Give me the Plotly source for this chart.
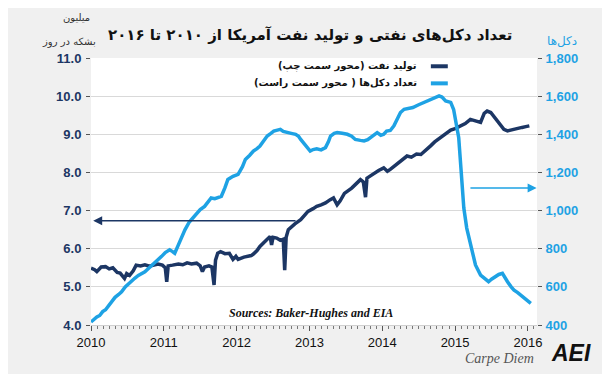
import plotly.graph_objects as go

# ---------------- data ----------------
oil_t = [2010.00, 2010.05, 2010.08, 2010.14, 2010.20, 2010.25, 2010.30, 2010.36, 2010.40, 2010.44,
         2010.46, 2010.49, 2010.53, 2010.58, 2010.62, 2010.68, 2010.74, 2010.80, 2010.86, 2010.92,
         2010.98, 2011.02, 2011.04, 2011.06, 2011.12, 2011.20, 2011.26, 2011.32, 2011.38, 2011.45,
         2011.50, 2011.53, 2011.56, 2011.62, 2011.66, 2011.69, 2011.71, 2011.74, 2011.78, 2011.84,
         2011.90, 2011.95, 2011.99, 2012.02, 2012.10, 2012.20, 2012.23, 2012.28, 2012.32, 2012.36,
         2012.42, 2012.46, 2012.48, 2012.50, 2012.55, 2012.60, 2012.64, 2012.66, 2012.68, 2012.71,
         2012.76, 2012.80, 2012.88, 2012.94, 2012.98, 2013.05, 2013.10, 2013.16, 2013.22, 2013.28,
         2013.33, 2013.38, 2013.42, 2013.48, 2013.52, 2013.58, 2013.64, 2013.70, 2013.74, 2013.77,
         2013.79, 2013.84, 2013.90, 2013.95, 2014.02, 2014.07, 2014.11, 2014.16, 2014.20, 2014.27,
         2014.34, 2014.40, 2014.47, 2014.53, 2014.60, 2014.66, 2014.72, 2014.80, 2014.87, 2014.94,
         2015.00, 2015.08, 2015.14, 2015.21, 2015.28, 2015.35, 2015.40, 2015.44, 2015.49, 2015.54,
         2015.58, 2015.63, 2015.67, 2015.72, 2015.78, 2015.82, 2015.86, 2015.92, 2015.97, 2016.02]
oil_v = [5.49, 5.45, 5.40, 5.52, 5.53, 5.47, 5.50, 5.38, 5.36, 5.28,
         5.22, 5.35, 5.30, 5.42, 5.57, 5.55, 5.58, 5.54, 5.58, 5.60,
         5.57, 5.50, 5.13, 5.55, 5.57, 5.60, 5.58, 5.63, 5.60, 5.62,
         5.55, 5.40, 5.52, 5.55, 5.52, 5.05, 5.70, 5.88, 5.92, 5.87,
         5.88, 5.72, 5.80, 5.72, 5.78, 5.82, 5.86, 5.95, 6.06, 6.15,
         6.25, 6.32, 6.10, 6.30, 6.28, 6.22, 6.25, 5.44, 6.30, 6.50,
         6.60, 6.65, 6.76, 6.90, 6.98, 7.05, 7.11, 7.15, 7.20, 7.28,
         7.33, 7.15, 7.25, 7.45, 7.50, 7.59, 7.70, 7.81, 7.75, 7.35,
         7.85, 7.92, 8.00, 8.05, 8.12, 8.03, 8.08, 8.15, 8.21, 8.32,
         8.43, 8.40, 8.48, 8.47, 8.58, 8.69, 8.80, 8.91, 9.00, 9.11,
         9.15, 9.22, 9.28, 9.39, 9.36, 9.31, 9.55, 9.61, 9.57, 9.45,
         9.35, 9.22, 9.13, 9.09, 9.12, 9.15, 9.17, 9.18, 9.20, 9.22]

rig_t = [2010.00, 2010.04, 2010.08, 2010.12, 2010.16, 2010.20, 2010.23, 2010.28, 2010.33, 2010.38,
         2010.42, 2010.47, 2010.51, 2010.55, 2010.60, 2010.65, 2010.70, 2010.74, 2010.80, 2010.86,
         2010.92, 2010.97, 2011.02, 2011.08, 2011.12, 2011.15, 2011.20, 2011.25, 2011.29, 2011.35,
         2011.43, 2011.50, 2011.56, 2011.60, 2011.65, 2011.70, 2011.75, 2011.79, 2011.84, 2011.88,
         2011.95, 2012.02, 2012.08, 2012.12, 2012.18, 2012.23, 2012.28, 2012.32, 2012.37, 2012.42,
         2012.47, 2012.51, 2012.56, 2012.60, 2012.64, 2012.69, 2012.75, 2012.81, 2012.85, 2012.88,
         2012.92, 2012.95, 2013.01, 2013.05, 2013.10, 2013.16, 2013.22, 2013.26, 2013.29, 2013.34,
         2013.38, 2013.45, 2013.52, 2013.58, 2013.63, 2013.70, 2013.75, 2013.80, 2013.84, 2013.90,
         2013.93, 2013.98, 2014.02, 2014.06, 2014.11, 2014.16, 2014.21, 2014.25, 2014.30, 2014.36,
         2014.42, 2014.50, 2014.57, 2014.62, 2014.66, 2014.72, 2014.78, 2014.82, 2014.87, 2014.94,
         2014.98, 2015.00, 2015.05, 2015.08, 2015.12, 2015.16, 2015.21, 2015.28, 2015.35, 2015.40,
         2015.46, 2015.50, 2015.55, 2015.60, 2015.65, 2015.69, 2015.72, 2015.77, 2015.81, 2015.86,
         2015.90, 2015.95, 2016.00, 2016.04]
rig_v = [416, 430, 442, 450, 470, 480, 495, 520, 545, 560,
         574, 600, 615, 627, 645, 660, 668, 679, 700, 720,
         741, 760, 780, 794, 785, 776, 820, 870, 899, 940,
         978, 1005, 1022, 1045, 1066, 1062, 1070, 1075, 1120, 1163,
         1180, 1190, 1230, 1268, 1290, 1312, 1325, 1338, 1365, 1391,
         1405, 1417, 1422, 1426, 1415, 1409, 1405, 1400, 1390, 1373,
         1355, 1338, 1312, 1320, 1324, 1318, 1330, 1360, 1391, 1405,
         1409, 1405, 1400, 1390, 1373, 1368, 1365, 1372, 1382, 1400,
         1409, 1395, 1400, 1417, 1420, 1444, 1480, 1514, 1531, 1535,
         1540, 1555, 1567, 1575, 1584, 1590, 1601, 1595, 1575, 1567,
         1530, 1488, 1382, 1224, 1013, 908, 820, 715, 662, 645,
         627, 640, 653, 665, 671, 650, 627, 600, 583, 570,
         557, 540, 521, 513]

year_ticks = [2010, 2011, 2012, 2013, 2014, 2015, 2016]
left_ticks = [4, 5, 6, 7, 8, 9, 10, 11]
right_ticks = [400, 600, 800, 1000, 1200, 1400, 1600, 1800]
right_labels = ["400", "600", "800", "1,000", "1,200", "1,400", "1,600", "1,800"]

# arrow anchors (data coordinates)
left_arrow = dict(x_from=2012.83, x_to=2010.03, y=6.73)
right_arrow = dict(x_from=2015.19, x_to=2016.12, y=1119)

# ---------------- style ----------------
NAVY = "#1c3664"
LIGHT = "#1ea2e4"
BG = "#f0f0f0"
GRID = "#d9d9d9"
FA = "DejaVu Sans"

fig = go.Figure()
fig.add_trace(go.Scatter(x=oil_t, y=oil_v, mode="lines", yaxis="y",
                         line=dict(color=NAVY, width=3.5), showlegend=False))
fig.add_trace(go.Scatter(x=rig_t, y=rig_v, mode="lines", yaxis="y2",
                         line=dict(color=LIGHT, width=3.5), showlegend=False))

# the page body adds an 8px offset, so the figure is 8px smaller on each axis
fig.update_layout(
    width=602, height=366,
    margin=dict(l=83, r=73, t=50, b=49),
    paper_bgcolor=BG, plot_bgcolor="white",
    xaxis=dict(range=[2010, 2016.125], tickvals=year_ticks, ticktext=[str(y) for y in year_ticks],
               ticks="outside", ticklen=5, tickcolor="#555", showgrid=False, zeroline=False,
               tickfont=dict(family="Liberation Sans", size=13, color="#111"),
               showline=True, linecolor="#d0d0d0", linewidth=1,
               minor=dict(ticks="outside", ticklen=3, tickcolor="#777", dtick=1/12,
                          tick0=2010, showgrid=False)),
    yaxis=dict(range=[4, 11], tickvals=left_ticks, ticktext=[f"{v:.1f}" for v in left_ticks],
               ticks="outside", ticklen=4, tickcolor="#555", ticklabelstandoff=2,
               showgrid=True, gridcolor=GRID, gridwidth=1, zeroline=False,
               tickfont=dict(family="Liberation Sans", size=13, color=NAVY, weight="bold")),
    yaxis2=dict(range=[400, 1800], tickvals=right_ticks, ticktext=right_labels,
                overlaying="y", side="right", ticks="outside", ticklen=4, tickcolor="#555",
                ticklabelstandoff=1, showgrid=False, zeroline=False,
                tickfont=dict(family="Liberation Sans", size=13, color=LIGHT, weight="bold")),
)

anns = [
    dict(text="<b>تعداد دکل\u200cهای نفتی و تولید نفت آمریکا از ۲۰۱۰ تا ۲۰۱۶</b>",
         xref="paper", yref="paper", x=0.5, y=1.0, xshift=-4, yshift=23, xanchor="center", yanchor="middle",
         showarrow=False, font=dict(family=FA, size=15, color="#111")),
    dict(text="میلیون", xref="paper", yref="paper", x=0.0, y=1.0, xshift=1, yshift=41,
         xanchor="right", yanchor="middle", showarrow=False,
         font=dict(family=FA, size=10, color="#333")),
    dict(text="بشکه در روز", xref="paper", yref="paper", x=0.0, y=1.0, xshift=7, yshift=16,
         xanchor="right", yanchor="middle", showarrow=False,
         font=dict(family=FA, size=10, color="#333")),
    dict(text="دکل\u200cها", xref="paper", yref="paper", x=1.0, y=1.0, xshift=25, yshift=17,
         xanchor="center", yanchor="middle", showarrow=False,
         font=dict(family=FA, size=12, color=LIGHT)),
    dict(text="<b><i>Sources: Baker-Hughes and EIA</i></b>", xref="paper", yref="paper",
         x=0.493, y=0.0, yshift=12, xanchor="center", yanchor="middle", showarrow=False,
         font=dict(family="Liberation Serif", size=12, color="#111")),
    dict(text="<i>Carpe Diem</i>", xref="paper", yref="paper", x=1.0, y=0.0, xshift=-1, yshift=-33,
         xanchor="right", yanchor="middle", showarrow=False,
         font=dict(family="Liberation Serif", size=14, color="#555")),
    dict(text="<b><i>AEI</i></b>", xref="paper", yref="paper", x=1.0, y=0.0, xshift=12, yshift=-28,
         xanchor="left", yanchor="middle", showarrow=False,
         font=dict(family="Liberation Sans", size=23, color="#111")),
    # legend text
    dict(text="<b>تولید نفت (محور سمت چپ)</b>", xref="paper", yref="paper", x=0.735, y=0.969,
         xanchor="right", yanchor="middle", showarrow=False,
         font=dict(family=FA, size=10, color="#111")),
    dict(text="<b>تعداد دکل\u200cها ( محور سمت راست)</b>", xref="paper", yref="paper", x=0.735, y=0.905,
         xanchor="right", yanchor="middle", showarrow=False,
         font=dict(family=FA, size=10, color="#111")),
    # arrows
    dict(x=left_arrow["x_to"], y=left_arrow["y"], ax=left_arrow["x_from"], ay=left_arrow["y"],
         xref="x", yref="y", axref="x", ayref="y", text="", showarrow=True,
         arrowhead=2, arrowsize=1.2, arrowwidth=1.5, arrowcolor=NAVY),
    dict(x=right_arrow["x_to"], y=right_arrow["y"], ax=right_arrow["x_from"], ay=right_arrow["y"],
         xref="x", yref="y2", axref="x", ayref="y2", text="", showarrow=True,
         arrowhead=2, arrowsize=1.2, arrowwidth=1.5, arrowcolor=LIGHT),
]
fig.update_layout(annotations=anns)

fig.update_layout(shapes=[
    dict(type="line", xref="paper", yref="paper", x0=0.762, x1=0.80, y0=0.969, y1=0.969,
         line=dict(color=NAVY, width=4)),
    dict(type="line", xref="paper", yref="paper", x0=0.762, x1=0.80, y0=0.905, y1=0.905,
         line=dict(color=LIGHT, width=4)),
])

fig.write_html("out.html")
